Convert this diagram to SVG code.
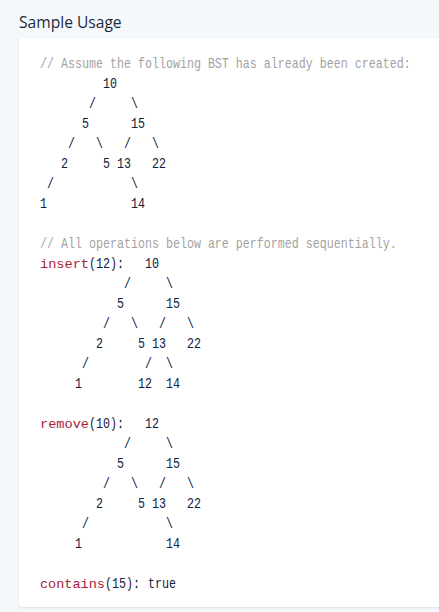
<svg xmlns="http://www.w3.org/2000/svg" width="439" height="612" viewBox="0 0 439 612">
  <style>
    .code { font-family: "Liberation Mono", "DejaVu Sans Mono", monospace; font-size: 14px; fill: #0d2140; white-space: pre; }
    .cmt { fill: #a3a3a3; }
    .kw { font-family: "Liberation Mono", "DejaVu Sans Mono", monospace; font-size: 13.4px; fill: #a61d3e; }
    .title { font-family: "Open Sans", "Noto Sans", sans-serif; font-size: 15.6px; fill: #1b2a3d; }
  </style>
  <defs>
    <filter id="shadow" x="-5%" y="-5%" width="110%" height="110%">
      <feDropShadow dx="0" dy="1" stdDeviation="1.2" flood-color="#8a9bb3" flood-opacity="0.25"/>
    </filter>
  </defs>
  <rect x="0" y="0" width="439" height="612" fill="#f5f8fb"/>
  <text class="title" x="19" y="28">Sample Usage</text>
  <rect x="19" y="38" width="440" height="569" rx="4" ry="4" fill="#ffffff" filter="url(#shadow)"/>

  <g id="initial-tree" xml:space="preserve">
    <g transform="matrix(0.8333333 0 0 1 6.6666667 0)">
      <text class="code cmt" x="40" y="68">// Assume the following BST has already been created:</text>
      <text class="code" x="40" y="88">         10</text>
      <text class="code" x="40" y="108">       /     \</text>
      <text class="code" x="40" y="128">      5      15</text>
      <text class="code" x="40" y="148">    /   \   /   \</text>
      <text class="code" x="40" y="168">   2     5 13   22</text>
      <text class="code" x="40" y="188"> /           \</text>
      <text class="code" x="40" y="208">1            14</text>
    </g>
  </g>

  <g id="insert" xml:space="preserve">
    <text class="kw" x="40" y="268" textLength="49" lengthAdjust="spacingAndGlyphs">insert</text>
    <g transform="matrix(0.8333333 0 0 1 6.6666667 0)">
      <text class="code cmt" x="40" y="248">// All operations below are performed sequentially.</text>
      <text class="code" x="98.8" y="268">(12):</text>
      <text class="code" x="166" y="268">10</text>
      <text class="code" x="40" y="288">            /     \</text>
      <text class="code" x="40" y="308">           5      15</text>
      <text class="code" x="40" y="328">         /   \   /   \</text>
      <text class="code" x="40" y="348">        2     5 13   22</text>
      <text class="code" x="40" y="368">      /        /  \</text>
      <text class="code" x="40" y="388">     1        12  14</text>
    </g>
  </g>

  <g id="remove" xml:space="preserve">
    <text class="kw" x="40" y="428" textLength="49" lengthAdjust="spacingAndGlyphs">remove</text>
    <g transform="matrix(0.8333333 0 0 1 6.6666667 0)">
      <text class="code" x="98.8" y="428">(10):</text>
      <text class="code" x="166" y="428">12</text>
      <text class="code" x="40" y="448">            /     \</text>
      <text class="code" x="40" y="468">           5      15</text>
      <text class="code" x="40" y="488">         /   \   /   \</text>
      <text class="code" x="40" y="508">        2     5 13   22</text>
      <text class="code" x="40" y="528">      /           \</text>
      <text class="code" x="40" y="548">     1            14</text>
    </g>
  </g>

  <g id="contains" xml:space="preserve">
    <text class="kw" x="40" y="588" textLength="65" lengthAdjust="spacingAndGlyphs">contains</text>
    <g transform="matrix(0.8333333 0 0 1 6.6666667 0)">
      <text class="code" x="118" y="588">(15):</text>
      <text class="code" x="169.6" y="588">true</text>
    </g>
  </g>
</svg>
